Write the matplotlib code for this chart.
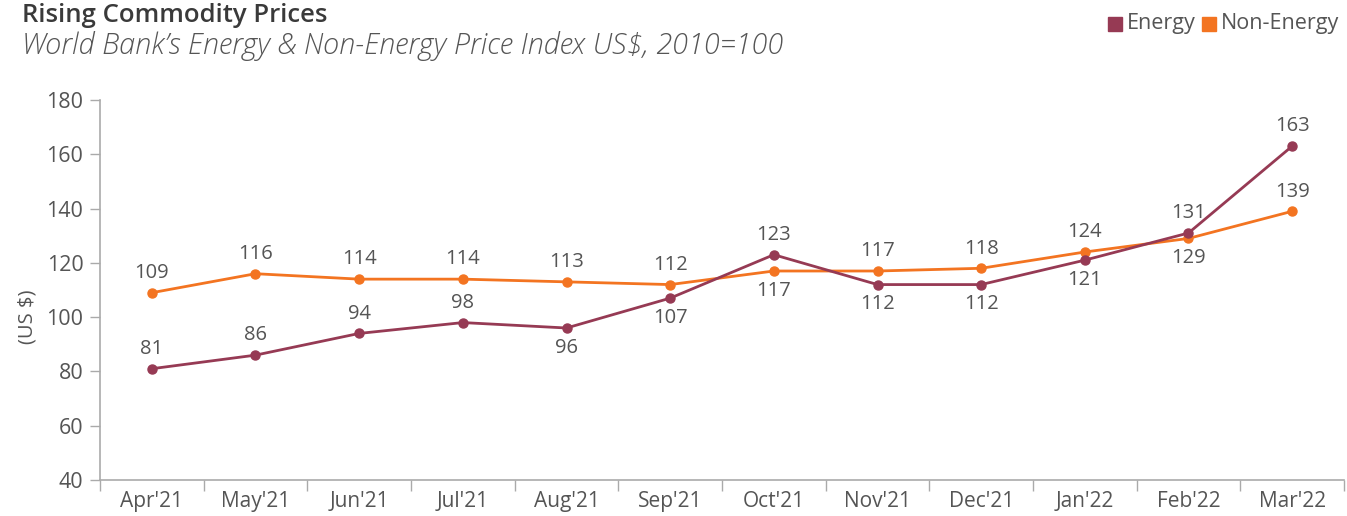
import matplotlib
matplotlib.use("Agg")
import matplotlib.pyplot as plt
from matplotlib.patches import Rectangle
from matplotlib.ticker import FixedLocator

plt.rcParams['font.family'] = ['Open Sans', 'DejaVu Sans']

months = ["Apr'21", "May'21", "Jun'21", "Jul'21", "Aug'21", "Sep'21",
          "Oct'21", "Nov'21", "Dec'21", "Jan'22", "Feb'22", "Mar'22"]
energy = [81, 86, 94, 98, 96, 107, 123, 112, 112, 121, 131, 163]
non_energy = [109, 116, 114, 114, 113, 112, 117, 117, 118, 124, 129, 139]
# label placement per point: +1 above, -1 below
energy_pos = [1, 1, 1, 1, -1, -1, 1, -1, -1, -1, 1, 1]
non_energy_pos = [1, 1, 1, 1, 1, 1, -1, 1, 1, 1, -1, 1]
y_ticks = [40, 60, 80, 100, 120, 140, 160, 180]

ENERGY_C = '#963A54'
NONENERGY_C = '#F37421'
TEXT_C = '#555555'
AXIS_C = '#AAAAAA'

fig = plt.figure(figsize=(13.47, 5.16), dpi=100)
ax = fig.add_axes([100 / 1347, 1 - 480 / 516, 1244 / 1347, 380 / 516])

x = list(range(len(months)))
ax.plot(x, non_energy, color=NONENERGY_C, lw=2, marker='o', ms=6.5, zorder=3)
ax.plot(x, energy, color=ENERGY_C, lw=2, marker='o', ms=6.5, zorder=4)

for series, positions in [(energy, energy_pos), (non_energy, non_energy_pos)]:
    for xi, v, p in zip(x, series, positions):
        ax.annotate(str(v), (xi, v), xytext=(0, 7 * p), textcoords='offset points',
                    ha='center', va='bottom' if p > 0 else 'top',
                    fontsize=14.5, color=TEXT_C)

ax.set_xlim(-0.5, len(months) - 0.5)
ax.set_ylim(40, 180)
ax.set_yticks(y_ticks)
ax.set_xticks(x)
ax.set_xticklabels(months)
ax.xaxis.set_minor_locator(FixedLocator([i - 0.5 for i in range(len(months) + 1)]))
ax.tick_params(axis='x', which='major', length=0, pad=8, labelsize=15, labelcolor=TEXT_C)
ax.tick_params(axis='x', which='minor', length=8, width=1, color=AXIS_C)
ax.tick_params(axis='y', length=7, width=1, color=AXIS_C, pad=5, labelsize=15.5,
               labelcolor=TEXT_C)

for s in ['top', 'right']:
    ax.spines[s].set_visible(False)
for s in ['left', 'bottom']:
    ax.spines[s].set_color(AXIS_C)
    ax.spines[s].set_linewidth(1.2)

ax.set_ylabel('(US $)', fontsize=14.5, color=TEXT_C)
ax.yaxis.set_label_coords(-0.050, 0.43)

fig.text(22 / 1347, 1 - 15 / 516, 'Rising Commodity Prices', fontsize=18.5,
         fontweight='semibold', color='#3A3A3A', va='center', ha='left')
fig.text(22 / 1347, 1 - 46 / 516, "World Bank\u2019s Energy & Non-Energy Price Index US$, 2010=100",
         fontsize=20.8, style='italic', fontweight='light', color=TEXT_C, va='center', ha='left')

# legend
ly = 1 - 24 / 516
for x0, col, label in [(1108, ENERGY_C, 'Energy'), (1202, NONENERGY_C, 'Non-Energy')]:
    fig.patches.append(Rectangle((x0 / 1347, ly - 7 / 516), 14 / 1347, 14 / 516,
                                 transform=fig.transFigure, color=col))
    fig.text((x0 + 19) / 1347, ly, label, fontsize=15.5, color=TEXT_C,
             va='center', ha='left')

fig.savefig('out.png', dpi=100)
